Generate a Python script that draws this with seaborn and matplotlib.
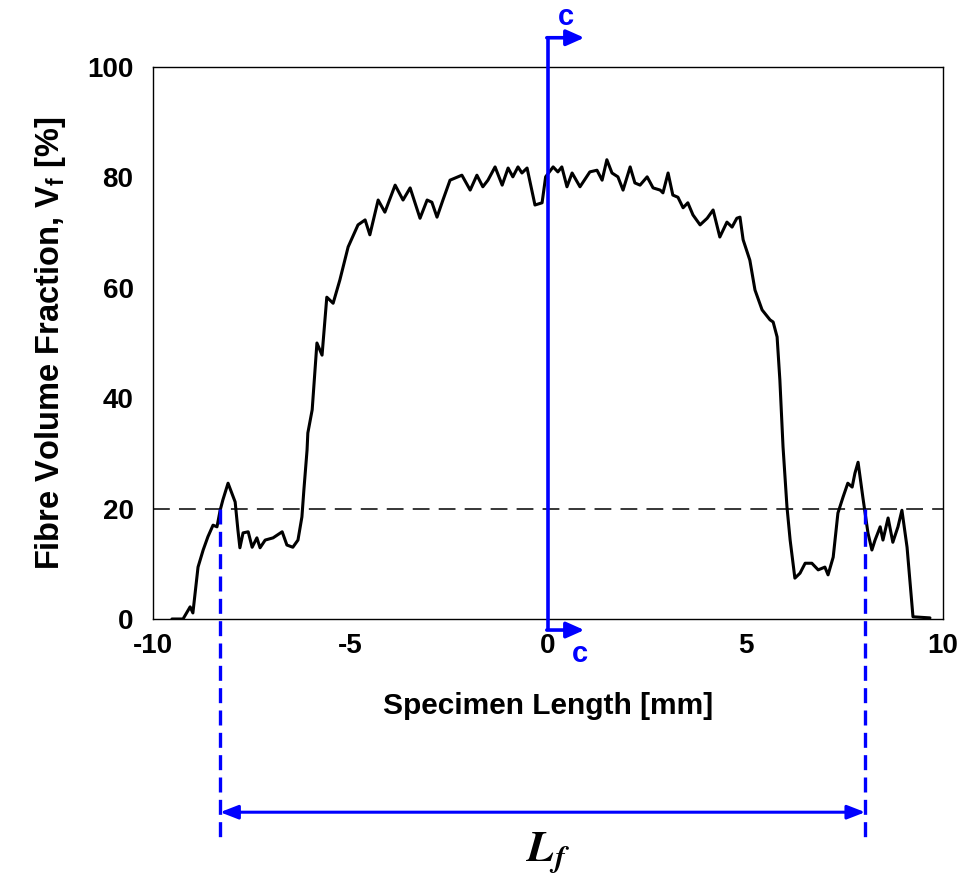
import matplotlib
matplotlib.use("Agg")
import matplotlib.pyplot as plt
import seaborn as sns
import pandas as pd

# Fibre volume fraction profile along the specimen
length_mm = [
    -9.52, -9.24, -9.06, -8.99, -8.86, -8.73, -8.61, -8.48, -8.38, -8.30,
    -8.23, -8.10, -7.92, -7.85, -7.80, -7.72, -7.59, -7.49, -7.37, -7.29,
    -7.16, -6.96, -6.73, -6.61, -6.46, -6.33, -6.23, -6.18, -6.10, -6.08,
    -5.97, -5.85, -5.72, -5.60, -5.44, -5.27, -5.06, -4.81, -4.63, -4.51,
    -4.30, -4.13, -3.87, -3.67, -3.49, -3.24, -3.06, -2.94, -2.81, -2.66,
    -2.48, -2.18, -1.97, -1.80, -1.65, -1.52, -1.34, -1.16, -1.01, -0.89,
    -0.76, -0.66, -0.53, -0.33, -0.15, -0.06, 0.13, 0.25, 0.35, 0.48,
    0.61, 0.81, 1.06, 1.24, 1.37, 1.49, 1.62, 1.77, 1.90, 2.08,
    2.20, 2.33, 2.51, 2.66, 2.84, 2.91, 3.04, 3.16, 3.29, 3.42,
    3.54, 3.67, 3.85, 4.03, 4.18, 4.35, 4.53, 4.66, 4.78, 4.86,
    4.94, 5.11, 5.24, 5.42, 5.62, 5.70, 5.80, 5.87, 5.95, 6.05,
    6.13, 6.25, 6.38, 6.51, 6.68, 6.84, 7.01, 7.09, 7.22, 7.34,
    7.47, 7.59, 7.70, 7.77, 7.85, 7.97, 8.10, 8.20, 8.28, 8.41,
    8.48, 8.61, 8.73, 8.86, 8.96, 9.09, 9.24, 9.67,
]
vf_percent = [
    0.0, 0.0, 2.2, 1.1, 9.4, 12.5, 14.9, 17.0, 16.7, 19.7,
    21.6, 24.6, 21.2, 16.1, 12.9, 15.6, 15.8, 13.0, 14.7, 12.9,
    14.3, 14.7, 15.8, 13.4, 13.0, 14.3, 18.5, 23.4, 30.6, 33.7,
    37.9, 50.0, 47.8, 58.3, 57.2, 61.4, 67.4, 71.4, 72.3, 69.6,
    75.9, 73.7, 78.6, 75.9, 78.1, 72.6, 75.9, 75.5, 72.8, 75.9,
    79.5, 80.4, 77.7, 80.4, 78.3, 79.5, 81.9, 78.6, 81.7, 80.1,
    81.9, 80.8, 81.7, 75.0, 75.4, 80.1, 81.9, 81.0, 81.9, 78.3,
    80.8, 78.3, 81.0, 81.3, 79.5, 83.2, 80.8, 80.1, 77.7, 81.9,
    79.0, 78.6, 80.1, 78.1, 77.7, 77.2, 80.8, 76.8, 76.4, 74.5,
    75.4, 73.2, 71.4, 72.6, 74.1, 69.2, 71.9, 71.0, 72.6, 72.8,
    68.7, 65.0, 59.6, 56.0, 54.2, 53.8, 51.1, 43.3, 31.2, 20.3,
    14.3, 7.4, 8.3, 10.1, 10.1, 8.9, 9.4, 8.0, 11.2, 19.2,
    22.1, 24.6, 23.9, 26.4, 28.4, 22.1, 15.6, 12.5, 14.3, 16.7,
    14.3, 18.3, 13.9, 16.7, 19.7, 13.0, 0.4, 0.2,
]

x_ticks = [-10, -5, 0, 5, 10]
y_ticks = [0, 20, 40, 60, 80, 100]
threshold = 20
lf_bounds = [-8.30, 8.03]   # where the profile crosses the threshold
section_x = 0

df = pd.DataFrame({"length": length_mm, "vf": vf_percent})

sns.set_theme(style="white")
plt.rcParams["font.family"] = ["Liberation Sans", "DejaVu Sans"]
plt.rcParams["text.color"] = "black"
plt.rcParams["axes.labelcolor"] = "black"
plt.rcParams["xtick.color"] = "black"
plt.rcParams["ytick.color"] = "black"
plt.rcParams["mathtext.fontset"] = "custom"
plt.rcParams["mathtext.rm"] = "Liberation Sans:bold"
plt.rcParams["mathtext.bf"] = "Liberation Sans:bold"
plt.rcParams["mathtext.it"] = "Liberation Sans:bold:italic"

fig = plt.figure(figsize=(9.78, 8.83), dpi=100)
ax = fig.add_axes([153 / 978, 1 - 619 / 883, 790 / 978, 552 / 883])

sns.lineplot(data=df, x="length", y="vf", ax=ax, color="black",
             linewidth=2.2, estimator=None, sort=False, zorder=3)
ax.axhline(threshold, color="black", linewidth=1.1, dashes=(11, 6), zorder=2)

ax.set_xlim(-10, 10)
ax.set_ylim(0, 100)
ax.set_xticks(x_ticks)
ax.set_yticks(y_ticks)
ax.set_xticklabels([str(t) for t in x_ticks], fontsize=20, fontweight="bold")
ax.set_yticklabels([str(t) for t in y_ticks], fontsize=20, fontweight="bold")
ax.tick_params(axis="y", length=0, pad=14)
ax.tick_params(axis="x", length=0, pad=10)
for s in ax.spines.values():
    s.set_color("black")
    s.set_linewidth(1.0)
ax.grid(False)

ax.set_xlabel("Specimen Length [mm]", fontsize=21.5, fontweight="bold", labelpad=24)
ax.set_ylabel(r"Fibre Volume Fraction, V$_{\mathbf{f}}$ [%]", fontsize=23.5,
              fontweight="bold", labelpad=14)

blue = "#0000ff"

# Section c-c marker
ax.plot([section_x, section_x], [-2.0, 105.3], color=blue, linewidth=2.6,
        clip_on=False, zorder=5, solid_capstyle="butt")
for yy in (105.3, -2.0):
    ax.annotate("", xy=(0.92, yy), xytext=(section_x - 0.03, yy),
                xycoords="data", textcoords="data", annotation_clip=False,
                arrowprops=dict(arrowstyle="-|>,head_length=0.9,head_width=0.4",
                                color=blue, lw=2.6, shrinkA=0, shrinkB=0))
ax.text(0.45, 109.0, "c", color=blue, fontsize=21, fontweight="bold",
        ha="center", va="center", clip_on=False)
ax.text(0.82, -6.4, "c", color=blue, fontsize=21, fontweight="bold",
        ha="center", va="center", clip_on=False)

# Fibre length L_f dimension
for xb in lf_bounds:
    ax.plot([xb, xb], [threshold, -39.8], color=blue, linewidth=2.4,
            dashes=(4.5, 2.2), clip_on=False, zorder=5)
ax.annotate("", xy=(lf_bounds[0], -35.0), xytext=(lf_bounds[1], -35.0),
            xycoords="data", textcoords="data", annotation_clip=False,
            arrowprops=dict(arrowstyle="<|-|>,head_length=0.9,head_width=0.35",
                            color=blue, lw=2.2, shrinkA=0, shrinkB=0))
ax.text(0.0, -42.3, r"$\mathbfit{L_f}$", fontsize=32, color="black",
        ha="center", va="center", math_fontfamily="stix", clip_on=False)

fig.savefig("out.png", dpi=100, facecolor="white")
